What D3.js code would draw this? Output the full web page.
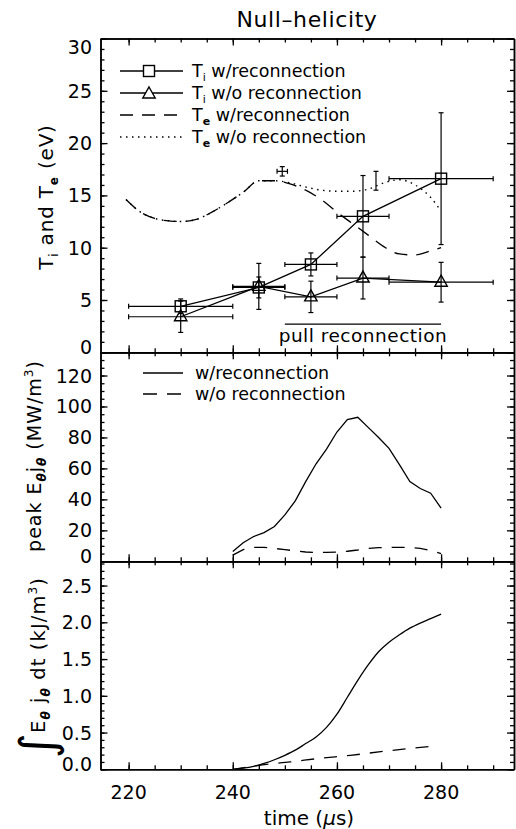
<!DOCTYPE html>
<html>
<head>
<meta charset="utf-8">
<script src="https://cdn.jsdelivr.net/npm/d3@7"></script>
<style>
body { margin: 0; background: #fff; }
svg text { font-family: "DejaVu Sans", sans-serif; fill: #000; }
</style>
</head>
<body>
<div id="chart"></div>
<script>
// ion temperature (eV) with error bars
const tiTime = [230, 245, 255, 265, 280];
const tiTimeErr = [10, 5, 5, 5, 10];
const tiWith = [4.4, 6.2, 8.4, 13.0, 16.6];
const tiWithErr = [0.7, 1.0, 1.1, 3.9, 6.3];
const tiWithout = [3.4, 6.3, 5.3, 7.1, 6.7];
const tiWithoutErr = [1.5, 2.2, 1.5, 2.0, 1.9];

// electron temperature traces (eV)
const teTime = [219.5, 222, 225, 228, 230, 233, 236, 239, 242, 245, 248, 251, 254, 257, 260, 263, 266, 269, 272, 275, 278, 280];
const teWith = [14.6, 13.5, 12.8, 12.55, 12.5, 12.7, 13.4, 14.3, 15.3, 16.4, 16.4, 16.1, 15.5, 14.6, 13.4, 12.3, 11.2, 10.1, 9.4, 9.3, 9.7, 10.0];
const teWithout = [14.6, 13.5, 12.8, 12.55, 12.5, 12.7, 13.4, 14.3, 15.3, 16.4, 16.4, 16.2, 15.8, 15.5, 15.4, 15.4, 15.6, 16.2, 16.5, 16.0, 14.8, 13.5];
const teErrTime = [249.5, 267.5];
const teErrTimeErr = [1, 0];
const teErrVal = [17.3, 16.4];
const teErrSize = [0.45, 0.9];

// peak E_theta j_theta (MW/m^3)
const powTime = [240, 242, 244, 246, 248, 250, 252, 254, 256, 258, 260, 262, 264, 266, 268, 270, 272, 274, 276, 278, 280];
const powWith = [6.3, 12, 16, 18.5, 22.5, 30, 39, 51.5, 63, 72.5, 83.5, 91.5, 93, 86.5, 80, 73, 62.5, 51.5, 47, 44, 34.3];
const powWithout = [4, 7.5, 9, 9, 8.3, 7.5, 6.8, 6.0, 5.7, 5.8, 6.0, 6.5, 7.3, 8.3, 8.8, 9.0, 9.0, 8.9, 8.3, 7.0, 5.0];

// integrated E_theta j_theta (kJ/m^3)
const intTime = [240, 242, 244, 246, 248, 250, 252, 254, 256, 258, 260, 262, 264, 266, 268, 270, 272, 274, 276, 278, 280];
const intWith = [0, 0.015, 0.04, 0.08, 0.13, 0.19, 0.26, 0.35, 0.44, 0.57, 0.75, 0.98, 1.21, 1.42, 1.6, 1.73, 1.83, 1.92, 1.99, 2.05, 2.11];
const intWithoutTime = [240, 245.7, 251, 256.8, 262.6, 268.4, 274.1, 279.3];
const intWithout = [0, 0.06, 0.10, 0.15, 0.19, 0.24, 0.285, 0.32];

// ticks
const xMajor = [220, 240, 260, 280];
const tempTicks = [0, 5, 10, 15, 20, 25, 30];
const powTicks = [0, 20, 40, 60, 80, 100, 120];
const intTicks = [0, 0.5, 1.0, 1.5, 2.0, 2.5];

const W = 516, H = 829;
const svg = d3.select("#chart").append("svg").attr("width", W).attr("height", H);

const x = d3.scaleLinear().domain([214.6, 294]).range([100.5, 514]);
const yT = d3.scaleLinear().domain([0, 30]).range([352.3, 38.5]);
const yP = d3.scaleLinear().domain([0, 135]).range([561.3, 352.3]);
const yE = d3.scaleLinear().domain([0, 2.83]).range([769.3, 561.3]);

const panels = [
  {y: yT, major: tempTicks, minor: 1, fmt: d3.format("d")},
  {y: yP, major: powTicks, minor: 5, fmt: d3.format("d")},
  {y: yE, major: intTicks, minor: 0.1, fmt: d3.format(".1f")}
];

const xMinor = d3.range(220, 294, 5);
const [xl, xr] = x.range();

panels.forEach(p => {
  const [yb, yt] = p.y.range();
  const yMinor = d3.range(p.y.domain()[0], p.y.domain()[1] + 1e-9, p.minor);
  const g = svg.append("g").attr("class", "axes");
  const axes = [
    [d3.axisLeft(p.y), xl, 0],
    [d3.axisRight(p.y), xr, 0],
    [d3.axisBottom(x), 0, yb],
    [d3.axisTop(x), 0, yt]
  ];
  axes.forEach(([ax, tx, ty], i) => {
    const vert = i < 2;
    g.append("g").attr("transform", `translate(${tx},${ty})`)
      .call(ax.tickValues(vert ? yMinor : xMinor).tickSize(-4).tickSizeOuter(0).tickFormat(""));
    g.append("g").attr("transform", `translate(${tx},${ty})`)
      .call(ax.tickValues(vert ? p.major : xMajor).tickSize(-7).tickSizeOuter(0).tickFormat(""));
  });
  g.selectAll("path.domain").attr("stroke-width", 1.5);
  g.selectAll(".tick line").attr("stroke-width", 1.3);

  // y tick labels, kept inside the panel at the edges
  g.selectAll("text.ylab").data(p.major).enter().append("text")
    .attr("class", "ylab")
    .attr("x", 92)
    .attr("y", d => Math.max(yt + 8, Math.min(yb - 5.5, p.y(d))) + 7)
    .attr("text-anchor", "end")
    .attr("font-size", 19)
    .text(p.fmt);
});

// x tick labels
svg.selectAll("text.xlab").data(xMajor).enter().append("text")
  .attr("x", d => x(d)).attr("y", 799)
  .attr("text-anchor", "middle").attr("font-size", 19)
  .text(d => d);

// ---------- top panel ----------
const gTop = svg.append("g");
const lineT = d3.line().x(d => x(d[0])).y(d => yT(d[1]));
const smoothT = d3.line().x(d => x(d[0])).y(d => yT(d[1])).curve(d3.curveMonotoneX);

gTop.append("path").datum(teTime.map((t, i) => [t, teWith[i]]))
  .attr("d", smoothT).attr("fill", "none").attr("stroke", "#000")
  .attr("stroke-width", 1.3).attr("stroke-dasharray", "13,9");
gTop.append("path").datum(teTime.map((t, i) => [t, teWithout[i]]))
  .attr("d", smoothT).attr("fill", "none").attr("stroke", "#000")
  .attr("stroke-width", 1.4).attr("stroke-dasharray", "1.5,4.5");

function errorBars(g, rows, yScale) {
  const sel = g.selectAll(null).data(rows).enter().append("g")
    .attr("stroke", "#000").attr("stroke-width", 1.2).attr("fill", "none");
  sel.append("line")
    .attr("x1", d => x(d.t)).attr("x2", d => x(d.t))
    .attr("y1", d => yScale(d.v - d.dv)).attr("y2", d => yScale(d.v + d.dv));
  [-1, 1].forEach(s => {
    sel.append("line")
      .attr("x1", d => x(d.t) - 2.5).attr("x2", d => x(d.t) + 2.5)
      .attr("y1", d => yScale(d.v + s * d.dv)).attr("y2", d => yScale(d.v + s * d.dv));
  });
  const hz = sel.filter(d => d.dt > 0);
  hz.append("line")
    .attr("x1", d => x(d.t - d.dt)).attr("x2", d => x(d.t + d.dt))
    .attr("y1", d => yScale(d.v)).attr("y2", d => yScale(d.v));
  [-1, 1].forEach(s => {
    hz.append("line")
      .attr("x1", d => x(d.t + s * d.dt)).attr("x2", d => x(d.t + s * d.dt))
      .attr("y1", d => yScale(d.v) - 2.5).attr("y2", d => yScale(d.v) + 2.5);
  });
}

errorBars(gTop, teErrTime.map((t, i) => ({t, dt: teErrTimeErr[i], v: teErrVal[i], dv: teErrSize[i]})), yT);

const withRows = tiTime.map((t, i) => ({t, dt: tiTimeErr[i], v: tiWith[i], dv: tiWithErr[i]}));
const withoutRows = tiTime.map((t, i) => ({t, dt: tiTimeErr[i], v: tiWithout[i], dv: tiWithoutErr[i]}));
errorBars(gTop, withRows, yT);
errorBars(gTop, withoutRows, yT);

gTop.append("path").datum(tiTime.map((t, i) => [t, tiWith[i]]))
  .attr("d", lineT).attr("fill", "none").attr("stroke", "#000").attr("stroke-width", 1.3);
gTop.append("path").datum(tiTime.map((t, i) => [t, tiWithout[i]]))
  .attr("d", lineT).attr("fill", "none").attr("stroke", "#000").attr("stroke-width", 1.3);

const triangle = "M0,-7L6.2,4L-6.2,4Z";
gTop.selectAll("rect.sq").data(withRows).enter().append("rect")
  .attr("x", d => x(d.t) - 5.5).attr("y", d => yT(d.v) - 5.5)
  .attr("width", 11).attr("height", 11)
  .attr("fill", "none").attr("stroke", "#000").attr("stroke-width", 1.4);
gTop.selectAll("path.tri").data(withoutRows).enter().append("path")
  .attr("transform", d => `translate(${x(d.t)},${yT(d.v)})`)
  .attr("d", triangle)
  .attr("fill", "none").attr("stroke", "#000").attr("stroke-width", 1.4);

// pull reconnection interval
gTop.append("line")
  .attr("x1", x(250)).attr("x2", x(280)).attr("y1", yT(2.7)).attr("y2", yT(2.7))
  .attr("stroke", "#000").attr("stroke-width", 1.2);
gTop.append("text").attr("x", x(265)).attr("y", 341.5)
  .attr("text-anchor", "middle").attr("font-size", 18.5).attr("letter-spacing", 0.5)
  .text("pull reconnection");

// legend top
const legT = gTop.append("g");
const legRows = [
  {y: 71, dash: null, mark: "sq", sub: "i", rest: " w/reconnection"},
  {y: 93, dash: null, mark: "tri", sub: "i", rest: " w/o reconnection"},
  {y: 115, dash: "13,9", mark: null, sub: "e", rest: " w/reconnection"},
  {y: 137, dash: "1.5,4.5", mark: null, sub: "e", rest: " w/o reconnection"}
];
legRows.forEach(r => {
  legT.append("line").attr("x1", 120).attr("x2", 183).attr("y1", r.y).attr("y2", r.y)
    .attr("stroke", "#000").attr("stroke-width", r.dash === "1.5,4.5" ? 1.4 : 1.3)
    .attr("stroke-dasharray", r.dash);
  if (r.mark === "sq") {
    legT.append("rect").attr("x", 143.5).attr("y", r.y - 5.5).attr("width", 11).attr("height", 11)
      .attr("fill", "#fff").attr("stroke", "#000").attr("stroke-width", 1.4);
  } else if (r.mark === "tri") {
    legT.append("path").attr("transform", `translate(149,${r.y + 1})`).attr("d", triangle)
      .attr("fill", "#fff").attr("stroke", "#000").attr("stroke-width", 1.4);
  }
  const t = legT.append("text").attr("x", 192).attr("y", r.y + 6).attr("font-size", 17.5);
  t.append("tspan").text("T");
  t.append("tspan").attr("font-size", 11).attr("dy", 4)
    .attr("font-weight", r.sub === "e" ? "bold" : "normal").text(r.sub);
  t.append("tspan").attr("dy", -4).text(r.rest);
});

// ---------- middle panel ----------
const gMid = svg.append("g");
const lineP = d3.line().x(d => x(d[0])).y(d => yP(d[1]));
gMid.append("path").datum(powTime.map((t, i) => [t, powWith[i]]))
  .attr("d", lineP).attr("fill", "none").attr("stroke", "#000").attr("stroke-width", 1.3);
gMid.append("path").datum(powTime.map((t, i) => [t, powWithout[i]]))
  .attr("d", lineP).attr("fill", "none").attr("stroke", "#000").attr("stroke-width", 1.3)
  .attr("stroke-dasharray", "13,10");

gMid.append("line").attr("x1", 143).attr("x2", 183).attr("y1", 373).attr("y2", 373)
  .attr("stroke", "#000").attr("stroke-width", 1.3);
gMid.append("line").attr("x1", 143).attr("x2", 183).attr("y1", 394).attr("y2", 394)
  .attr("stroke", "#000").attr("stroke-width", 1.3).attr("stroke-dasharray", "14,10");
gMid.append("text").attr("x", 195).attr("y", 379).attr("font-size", 17.5).text("w/reconnection");
gMid.append("text").attr("x", 195).attr("y", 400).attr("font-size", 17.5).text("w/o reconnection");

// ---------- bottom panel ----------
const gBot = svg.append("g");
const lineE = d3.line().x(d => x(d[0])).y(d => yE(d[1])).curve(d3.curveMonotoneX);
gBot.append("path").datum(intTime.map((t, i) => [t, intWith[i]]))
  .attr("d", lineE).attr("fill", "none").attr("stroke", "#000").attr("stroke-width", 1.3);
gBot.append("path").datum(intWithoutTime.map((t, i) => [t, intWithout[i]]))
  .attr("d", lineE).attr("fill", "none").attr("stroke", "#000").attr("stroke-width", 1.3)
  .attr("stroke-dasharray", "13,10");

// ---------- titles ----------
svg.append("text").attr("x", 307).attr("y", 27).attr("text-anchor", "middle")
  .attr("font-size", 22).attr("letter-spacing", 0.6).text("Null\u2013helicity");

const xt = svg.append("text").attr("x", 309).attr("y", 825).attr("text-anchor", "middle").attr("font-size", 20);
xt.append("tspan").text("time (");
xt.append("tspan").attr("font-style", "italic").text("\u03bc");
xt.append("tspan").text("s)");

const t1 = svg.append("text").attr("transform", "translate(53,197) rotate(-90)")
  .attr("text-anchor", "middle").attr("font-size", 20).attr("letter-spacing", 0.8);
t1.append("tspan").text("T");
t1.append("tspan").attr("font-size", 12).attr("dy", 5).text("i");
t1.append("tspan").attr("dy", -5).text(" and T");
t1.append("tspan").attr("font-size", 12).attr("font-weight", "bold").attr("dy", 5).text("e");
t1.append("tspan").attr("dy", -5).text(" (eV)");

const t2 = svg.append("text").attr("transform", "translate(41,456) rotate(-90)")
  .attr("text-anchor", "middle").attr("font-size", 19).attr("letter-spacing", 1);
t2.append("tspan").text("peak E");
t2.append("tspan").attr("font-size", 12).attr("font-weight", "bold").attr("font-style", "italic").attr("dy", 5).text("\u03b8");
t2.append("tspan").attr("dy", -5).text("j");
t2.append("tspan").attr("font-size", 12).attr("font-weight", "bold").attr("font-style", "italic").attr("dy", 5).text("\u03b8");
t2.append("tspan").attr("dy", -5).text(" (MW/m");
t2.append("tspan").attr("font-size", 12).attr("dy", -8).text("3");
t2.append("tspan").attr("dy", 8).text(")");

// integral sign is part of the rotated label
const t3 = svg.append("text").attr("transform", "translate(45,758) rotate(-90)")
  .attr("text-anchor", "start").attr("font-size", 19.5).attr("letter-spacing", 1.1);
t3.append("tspan").attr("font-size", 48).attr("letter-spacing", 0).attr("dy", 9).text("\u222b");
t3.append("tspan").attr("dy", -9).text("E");
t3.append("tspan").attr("font-size", 12).attr("font-weight", "bold").attr("font-style", "italic").attr("dy", 5).text("\u03b8");
t3.append("tspan").attr("dy", -5).text(" j");
t3.append("tspan").attr("font-size", 12).attr("font-weight", "bold").attr("font-style", "italic").attr("dy", 5).text("\u03b8");
t3.append("tspan").attr("dy", -5).text(" dt (kJ/m");
t3.append("tspan").attr("font-size", 12).attr("dy", -8).text("3");
t3.append("tspan").attr("dy", 8).text(")");
</script>
</body>
</html>
